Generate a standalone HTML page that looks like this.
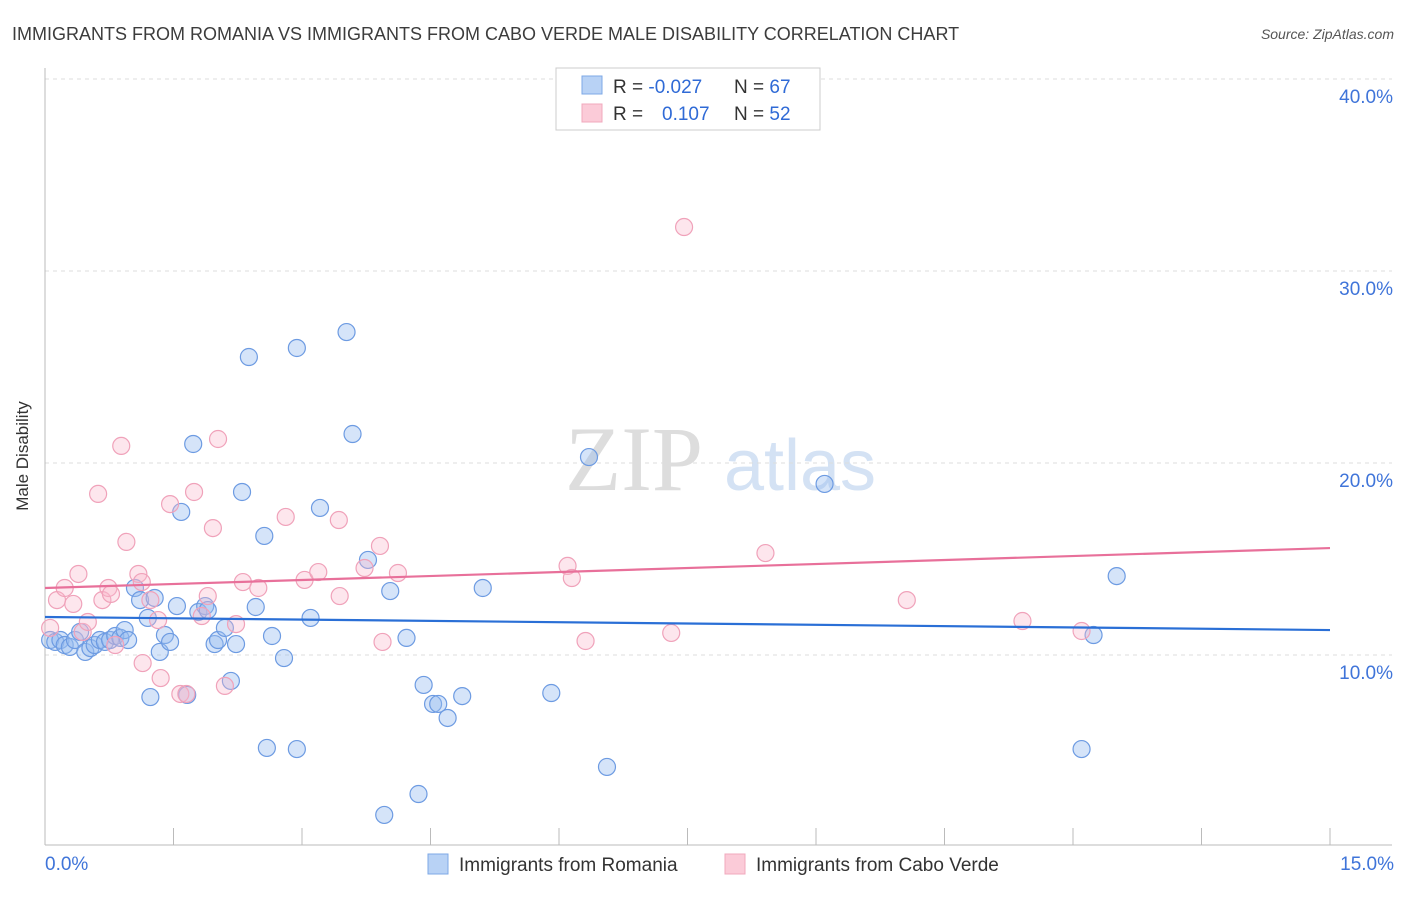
<!DOCTYPE html>
<html><head><meta charset="utf-8"><style>
body{margin:0;background:#fff;font-family:"Liberation Sans",sans-serif}
</style></head><body>
<svg id="chart" width="1406" height="892" xmlns="http://www.w3.org/2000/svg" font-family="Liberation Sans, sans-serif">
<text x="12" y="40" font-size="18" fill="#3c3c3c">IMMIGRANTS FROM ROMANIA VS IMMIGRANTS FROM CABO VERDE MALE DISABILITY CORRELATION CHART</text>
<text x="1394" y="39" font-size="14" fill="#555" font-style="italic" text-anchor="end">Source: ZipAtlas.com</text>
<text x="28" y="456" font-size="17" fill="#333" text-anchor="middle" transform="rotate(-90 28 456)">Male Disability</text>
<g><text x="634" y="490" font-size="92" fill="#ddd" font-family="Liberation Serif, serif" text-anchor="middle">ZIP</text><text x="800" y="490" font-size="72" fill="#d4e2f4" text-anchor="middle">atlas</text></g>
<g id="grid"></g><g id="axes"></g><g id="pts"></g><g id="lines"></g>
<g>
<rect x="556" y="68" width="264" height="62" fill="#fff" stroke="#ccc"/>
<rect x="582" y="76" width="20" height="18" fill="#b8d2f5" stroke="#7ea8e6"/>
<rect x="582" y="104" width="20" height="18" fill="#fbcbd8" stroke="#f0a8bd"/>
<text x="613" y="93" font-size="19" fill="#333">R = <tspan fill="#2f6ad6">-0.027</tspan></text>
<text x="734" y="93" font-size="19" fill="#333">N = <tspan fill="#2f6ad6">67</tspan></text>
<text x="613" y="120" font-size="19" fill="#333">R = <tspan fill="#2f6ad6" x="662">0.107</tspan></text>
<text x="734" y="120" font-size="19" fill="#333">N = <tspan fill="#2f6ad6">52</tspan></text>
</g>
<g>
<rect x="428" y="854" width="20" height="20" fill="#b8d2f5" stroke="#7ea8e6"/>
<text x="459" y="871" font-size="19" fill="#333">Immigrants from Romania</text>
<rect x="725" y="854" width="20" height="20" fill="#fbcbd8" stroke="#f0a8bd"/>
<text x="756" y="871" font-size="19" fill="#333">Immigrants from Cabo Verde</text>
</g>
</svg>
<script>
const yTicks=[10,20,30,40];
const xTickLabels=["0.0%","15.0%"];
const blueX=[0.06,0.12,0.18,0.23,0.29,0.35,0.41,0.47,0.53,0.58,0.64,0.70,0.76,0.82,0.88,0.93,0.97,1.05,1.11,1.20,1.23,1.28,1.34,1.40,1.46,1.54,1.59,1.66,1.73,1.79,1.87,1.90,1.98,2.02,2.10,2.17,2.23,2.30,2.38,2.46,2.56,2.59,2.65,2.79,2.94,2.94,3.10,3.21,3.52,3.59,3.77,3.96,4.03,4.22,4.36,4.42,4.53,4.59,4.70,4.87,5.11,5.91,6.35,6.56,9.10,12.10,12.24,12.51];
const blueY=[10.78,10.68,10.78,10.52,10.42,10.78,11.20,10.16,10.36,10.52,10.78,10.68,10.78,10.99,10.89,11.30,10.78,13.49,12.86,11.93,7.81,12.97,10.16,11.04,10.68,12.55,17.45,7.92,20.99,12.24,12.55,12.34,10.57,10.78,11.41,8.65,10.57,18.49,25.52,12.50,16.20,5.16,10.99,9.84,25.99,5.10,11.93,17.66,26.82,21.51,14.95,1.67,13.33,10.89,2.76,8.44,7.45,7.45,6.72,7.86,13.49,8.02,20.31,4.17,18.91,5.10,11.04,14.11];
const pinkX=[0.06,0.14,0.23,0.33,0.39,0.44,0.50,0.62,0.67,0.74,0.77,0.82,0.89,0.95,1.09,1.13,1.14,1.23,1.32,1.35,1.46,1.58,1.65,1.74,1.83,1.90,1.96,2.02,2.10,2.23,2.31,2.49,2.81,3.03,3.19,3.43,3.44,3.73,3.91,3.94,4.12,6.10,6.15,6.31,7.31,7.46,8.41,10.06,11.41,12.10];
const pinkY=[11.41,12.86,13.49,12.66,14.22,11.20,11.72,18.39,12.86,13.49,13.18,10.52,20.89,15.89,14.22,13.80,9.58,12.86,11.82,8.80,17.86,7.97,7.97,18.49,12.03,13.07,16.61,21.25,8.39,11.61,13.80,13.49,17.19,13.91,14.32,17.03,13.07,14.53,15.68,10.68,14.27,14.64,14.01,10.73,11.15,32.29,15.31,12.86,11.77,11.25];
const blueTrend=[11.98,11.30];
const pinkTrend=[13.49,15.57];
const NS="http://www.w3.org/2000/svg";
const X0=45,X1=1330,Y0=847;
const xs=v=>X0+v/15*(X1-X0);
const ys=v=>Y0-v*19.2;
function mk(t,a,p){const e=document.createElementNS(NS,t);for(const k in a)e.setAttribute(k,a[k]);document.getElementById(p).appendChild(e);return e;}
yTicks.forEach(t=>{
 const l=mk('line',{x1:X0,x2:1392,y1:ys(t),y2:ys(t),stroke:'#ddd','stroke-dasharray':'4,4'},'grid');
 
 
 const tx=mk('text',{x:1393,y:ys(t)+24,'font-size':19,fill:'#3f74d9','text-anchor':'end'},'grid');
 tx.textContent=t.toFixed(1)+'%';
 
 
});
const ax=mk('line',{x1:X0,x2:1392,y1:845,y2:845,stroke:'#bbb'},'axes');


const ay=mk('line',{x1:X0,x2:X0,y1:68,y2:845,stroke:'#bbb'},'axes');


for(let i=0;i<=10;i++){
 const tk=mk('line',{x1:xs(i*1.5),x2:xs(i*1.5),y1:828,y2:845,stroke:'#bbb'},'axes');
 
 
}
const xl0=mk('text',{x:45,y:870,'font-size':19,fill:'#3f74d9'},'axes');xl0.textContent=xTickLabels[0];


const xl1=mk('text',{x:1394,y:870,'font-size':19,fill:'#3f74d9','text-anchor':'end'},'axes');xl1.textContent=xTickLabels[1];


blueX.forEach((v,i)=>{
 const c=mk('circle',{cx:xs(v),cy:ys(blueY[i]),r:8.5,fill:'rgba(150,188,240,0.4)',stroke:'#6d9be2','stroke-width':1.2},'pts');
 
 
});
pinkX.forEach((v,i)=>{
 const c=mk('circle',{cx:xs(v),cy:ys(pinkY[i]),r:8.5,fill:'rgba(248,182,202,0.35)',stroke:'#f0a2ba','stroke-width':1.2},'pts');
 
 
});
const bl=mk('line',{x1:xs(0),x2:xs(15),y1:ys(blueTrend[0]),y2:ys(blueTrend[1]),stroke:'#2a6fd6','stroke-width':2.2},'lines');


const pl=mk('line',{x1:xs(0),x2:xs(15),y1:ys(pinkTrend[0]),y2:ys(pinkTrend[1]),stroke:'#e8709a','stroke-width':2.2},'lines');


</script>
</body></html>
